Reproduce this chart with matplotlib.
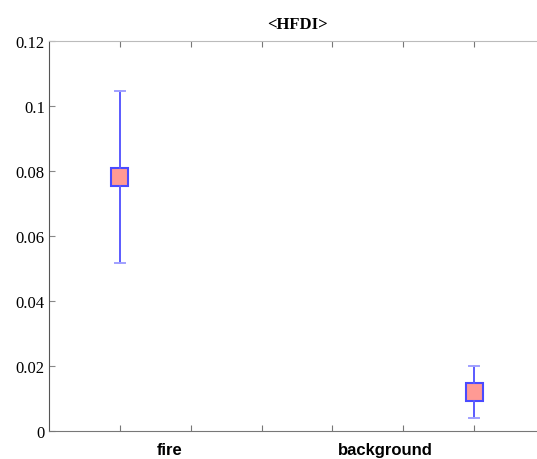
import matplotlib
matplotlib.use('Agg')
import matplotlib.pyplot as plt

# values
categories = ['fire', 'background']
box_pos = [1, 6]
label_pos = [1.7, 4.75]
whisk_lo = [0.0517, 0.0040]
box_lo = [0.0755, 0.0091]
box_hi = [0.0808, 0.0147]
whisk_hi = [0.1047, 0.0201]

stats = []
for i in range(len(categories)):
    stats.append({'label': categories[i],
                  'whislo': whisk_lo[i], 'q1': box_lo[i],
                  'med': (box_lo[i] + box_hi[i]) / 2,
                  'q3': box_hi[i], 'whishi': whisk_hi[i], 'fliers': []})

fig = plt.figure(figsize=(5.37, 4.60), dpi=100)
ax = fig.add_axes([0.0912, 0.0609, 0.9236, 0.8478])

ax.bxp(stats, positions=box_pos, widths=0.24, capwidths=0.14,
       showfliers=False, patch_artist=True,
       boxprops=dict(facecolor='#ff9a94', edgecolor='#4a4aff', linewidth=1.5),
       whiskerprops=dict(color='#5a5aff', linewidth=1.4),
       capprops=dict(color='#a0a0ff', linewidth=1.4),
       medianprops=dict(linewidth=0))

ax.set_xlim(0, 7)
ax.set_ylim(0, 0.12)
ax.set_xticks(range(1, 8))
ax.set_xticklabels([])
ax.set_xticks(label_pos, categories, minor=True)
ax.tick_params(axis='x', which='minor', length=0, pad=8)
ax.tick_params(axis='x', which='major', direction='in', length=4, top=True,
               color='#777777')
ax.tick_params(axis='y', direction='in', length=4, color='#888888', pad=3)
ax.set_yticks([0, 0.02, 0.04, 0.06, 0.08, 0.1, 0.12])
ax.set_yticklabels(['0', '0.02', '0.04', '0.06', '0.08', '0.1', '0.12'],
                   family='Liberation Serif', fontsize=12)
for lab in ax.get_xticklabels(minor=True):
    lab.set_family('Liberation Sans')
    lab.set_fontweight('bold')
    lab.set_fontsize(12)

ax.spines['left'].set_color('#555555')
ax.spines['bottom'].set_color('#777777')
ax.spines['top'].set_color('#bbbbbb')
ax.spines['right'].set_visible(False)

ax.set_title('<HFDI>', family='Liberation Serif', fontweight='bold',
             fontsize=12, pad=9)

fig.savefig('out.png', dpi=100)
